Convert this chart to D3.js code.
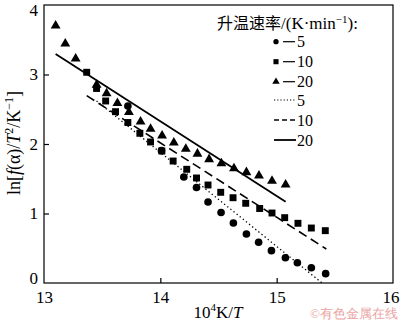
<!DOCTYPE html>
<html><head><meta charset="utf-8">
<script src="https://cdn.jsdelivr.net/npm/d3@7/dist/d3.min.js"></script>
<style>body{margin:0;background:#fff}svg{display:block}text{font-family:"Liberation Serif","Times New Roman",serif}</style>
</head><body><div id="chart"></div>
<script>
// Data (10^4 K / T , ln[f(α)/T^2])
const rate5X = [13.721,14.010,14.202,14.311,14.410,14.522,14.628,14.740,14.845,14.955,15.075,15.178,15.298,15.421];
const rate5Y = [2.547,1.904,1.525,1.374,1.165,1.014,0.863,0.705,0.586,0.465,0.364,0.292,0.220,0.134];
const rate10X = [13.367,13.452,13.530,13.615,13.721,13.824,13.916,14.013,14.110,14.227,14.311,14.410,14.519,14.625,14.734,14.854,14.960,15.069,15.183,15.298,15.418];
const rate10Y = [3.032,2.799,2.619,2.465,2.309,2.154,2.029,1.899,1.755,1.636,1.511,1.410,1.305,1.227,1.147,1.072,1.007,0.940,0.859,0.791,0.753];
const rate20X = [13.100,13.183,13.272,13.452,13.538,13.631,13.730,13.830,13.916,14.015,14.116,14.219,14.319,14.419,14.525,14.633,14.740,14.848,14.960,15.077];
const rate20Y = [3.702,3.443,3.227,2.849,2.729,2.586,2.458,2.321,2.216,2.119,2.019,1.928,1.859,1.780,1.722,1.650,1.593,1.544,1.468,1.414];
// Fitted lines: [x0,y0,x1,y1]
const fit5 = [13.452,2.620,15.390,0.0];
const fit10 = [13.367,2.695,15.427,0.489];
const fit20 = [13.100,3.295,15.077,1.170];
const xTicks = [13,14,15,16];
const yTicks = [0,1,2,3,4];
const legendRates = ["5","10","20"];

const W=400,H=323;
const svg=d3.select("#chart").append("svg").attr("width",W).attr("height",H);
const x=d3.scaleLinear().domain([13,16]).range([44,393]);
const y=d3.scaleLinear().domain([0,4]).range([283,5]);

// frame
svg.append("rect").attr("x",x(13)).attr("y",y(4)).attr("width",x(16)-x(13)).attr("height",y(0)-y(4))
  .attr("fill","none").attr("stroke","#000").attr("stroke-width",1.2);

// axes
const xa=svg.append("g").attr("transform",`translate(0,${y(0)})`)
  .call(d3.axisBottom(x).tickValues(xTicks).tickSize(-5).tickPadding(6).tickFormat(d3.format("d")));
const ya=svg.append("g").attr("transform",`translate(${x(13)},0)`)
  .call(d3.axisLeft(y).tickValues(yTicks).tickSize(-5).tickPadding(6).tickFormat(d3.format("d")));
[xa,ya].forEach(g=>{g.select(".domain").remove();g.selectAll("text").attr("font-size",17).attr("fill","#000").attr("font-family","Liberation Serif");g.selectAll("line").attr("stroke","#000").attr("stroke-width",1.2);});
xa.selectAll(".tick").filter(d=>d===13||d===16).select("line").remove();
ya.selectAll(".tick").filter(d=>d===0||d===4).select("line").remove();
xa.selectAll("text").attr("dy","0.85em");
xa.selectAll(".tick").filter(d=>d===16).select("text").attr("text-anchor","end").attr("x",6);
ya.selectAll(".tick").filter(d=>d===0).select("text").attr("dy","0.05em");
ya.selectAll(".tick").filter(d=>d===4).select("text").attr("dy","0.62em");

// fitted lines
function fitLine(f,dash,w){
  svg.append("line").attr("x1",x(f[0])).attr("y1",y(f[1])).attr("x2",x(f[2])).attr("y2",y(f[3]))
   .attr("stroke","#000").attr("stroke-width",w).attr("stroke-dasharray",dash);
}
fitLine(fit5,"1.3,2.7",1.3);
fitLine(fit10,"9,5",1.6);
fitLine(fit20,null,1.8);

// markers
const sym={circle:d3.symbol().type(d3.symbolCircle).size(46),square:d3.symbol().type(d3.symbolSquare).size(48),triangle:d3.symbol().type(d3.symbolTriangle).size(42)};
function pts(X,Y,s){
  svg.append("g").selectAll("path").data(X.map((v,i)=>[v,Y[i]])).join("path")
   .attr("d",sym[s]).attr("transform",d=>`translate(${x(d[0])},${y(d[1])})`).attr("fill","#000");
}
pts(rate5X,rate5Y,"circle");
pts(rate10X,rate10Y,"square");
pts(rate20X,rate20Y,"triangle");

// legend
const lg=svg.append("g");
const t=lg.append("text").attr("x",217).attr("y",29).attr("font-size",17);
t.append("tspan").attr("font-family","Noto Sans CJK SC").attr("font-size",16).text("升温速率");
t.append("tspan").text("/(K·min");
t.append("tspan").attr("dy",-6).attr("font-size",11).text("−1");
t.append("tspan").attr("dy",6).text("):");
const rowsY=[41.7,61.7,81.7,100,120,140];
const markerSyms=[d3.symbol().type(d3.symbolCircle).size(22),d3.symbol().type(d3.symbolSquare).size(26),d3.symbol().type(d3.symbolTriangle).size(24)];
legendRates.forEach((r,i)=>{
  lg.append("path").attr("d",markerSyms[i]).attr("transform",`translate(276,${rowsY[i]})`);
  lg.append("line").attr("x1",283).attr("x2",295).attr("y1",rowsY[i]).attr("y2",rowsY[i]).attr("stroke","#000").attr("stroke-width",1.2);
  lg.append("text").attr("x",297).attr("y",rowsY[i]+5.5).attr("font-size",16).text(r);
});
const dashes=[["1.2,2",1.2],["5,3",1.4],[null,1.8]];
legendRates.forEach((r,i)=>{
  const yy=rowsY[i+3];
  lg.append("line").attr("x1",274).attr("x2",296).attr("y1",yy).attr("y2",yy).attr("stroke","#000").attr("stroke-width",dashes[i][1]).attr("stroke-dasharray",dashes[i][0]);
  lg.append("text").attr("x",297).attr("y",yy+5.5).attr("font-size",16).text(r);
});

// axis titles
const xl=svg.append("text").attr("x",218).attr("y",318).attr("text-anchor","middle").attr("font-size",17);
xl.append("tspan").text("10");
xl.append("tspan").attr("dy",-7).attr("font-size",11).text("4");
xl.append("tspan").attr("dy",7).text("K/");
xl.append("tspan").attr("font-style","italic").text("T");

const yl=svg.append("text").attr("transform","translate(20,143) rotate(-90)").attr("text-anchor","middle").attr("font-size",18);
yl.append("tspan").text("ln[");
yl.append("tspan").attr("font-style","italic").text("f");
yl.append("tspan").text("(α)/");
yl.append("tspan").attr("font-style","italic").text("T");
yl.append("tspan").attr("dy",-7).attr("font-size",12).text("2");
yl.append("tspan").attr("dy",7).text("/K");
yl.append("tspan").attr("dy",-7).attr("font-size",12).text("−1");
yl.append("tspan").attr("dy",7).text("]");

// watermark
svg.append("text").attr("x",398).attr("y",318).attr("text-anchor","end").attr("font-size",13)
  .attr("font-family","Noto Sans CJK SC").attr("fill","#eaa4a4").text("©有色金属在线");
</script></body></html>
